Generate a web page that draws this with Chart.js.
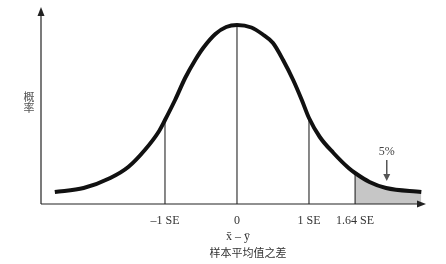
<!DOCTYPE html>
<html><head><meta charset="utf-8">
<script src="https://cdn.jsdelivr.net/npm/chart.js@4"></script>
<style>html,body{margin:0;padding:0;background:#fff}#wrap{width:446px;height:264px}</style>
</head><body><div id="wrap"><canvas id="c" width="446" height="264"></canvas></div>
<script>
// Curve: x in SE units, y = height above axis
const curveX = [-2.53,-2.13,-1.76,-1.51,-1.28,-1.09,-1.00,-0.86,-0.72,-0.58,-0.47,-0.30,-0.15,0,0.20,0.35,0.50,0.64,0.78,0.90,1.00,1.15,1.34,1.55,1.64,1.84,2.07,2.56];
const curveY = [12,16,26,37,54,72,84,104,126,144,156,170,177,179,176.5,170,161,144,124,104,86,67,51,36,31,22,16,12];
const markerX = [-1, 0, 1, 1.64];
const markerY = [84, 179, 86, 31];
const tickLabels = ['–1 SE', '0', '1 SE', '1.64 SE'];
const tailStart = 1.64;
const calloutLabel = '5%';
const calloutX = 2.08;
const calloutTextY = 52;
const calloutArrowTop = 44;
const calloutArrowTip = 23;
const xTitle = ['x̄ – ȳ', '样本平均值之差'];
const yTitle = ['概', '率'];

const curvePts = curveX.map((x, i) => ({x, y: curveY[i]}));
const tailPts = curvePts.filter(p => p.x >= tailStart);

const datasets = [{
  data: curvePts, borderColor: '#111', borderWidth: 4, pointRadius: 0,
  cubicInterpolationMode: 'monotone', fill: false
}];
markerX.forEach((m, i) => datasets.push({
  data: [{x: m, y: 0}, {x: m, y: markerY[i]}], borderColor: '#111', borderWidth: 1,
  pointRadius: 0, fill: false
}));
datasets.push({
  data: tailPts, borderWidth: 0, borderColor: 'rgba(0,0,0,0)', pointRadius: 0,
  cubicInterpolationMode: 'monotone', fill: 'origin', backgroundColor: '#c6c6c6'
});

const decor = {
  id: 'decor',
  afterDraw(chart) {
    const {ctx, chartArea: a, scales: {x, y}} = chart;
    ctx.save();
    ctx.strokeStyle = '#222'; ctx.fillStyle = '#222'; ctx.lineWidth = 1.2;
    // y axis + arrow
    ctx.beginPath(); ctx.moveTo(a.left, a.bottom); ctx.lineTo(a.left, a.top + 6); ctx.stroke();
    ctx.beginPath(); ctx.moveTo(a.left, a.top); ctx.lineTo(a.left - 3.5, a.top + 9);
    ctx.lineTo(a.left + 3.5, a.top + 9); ctx.closePath(); ctx.fill();
    // x axis + arrow
    ctx.beginPath(); ctx.moveTo(a.left, a.bottom); ctx.lineTo(a.right - 6, a.bottom); ctx.stroke();
    ctx.beginPath(); ctx.moveTo(a.right, a.bottom); ctx.lineTo(a.right - 9, a.bottom - 3.5);
    ctx.lineTo(a.right - 9, a.bottom + 3.5); ctx.closePath(); ctx.fill();
    // callout
    const cx = x.getPixelForValue(calloutX);
    ctx.fillStyle = '#444';
    ctx.font = '12px "Liberation Serif"';
    ctx.textAlign = 'center'; ctx.textBaseline = 'middle';
    ctx.fillText(calloutLabel, cx, y.getPixelForValue(calloutTextY));
    ctx.strokeStyle = '#555'; ctx.fillStyle = '#555'; ctx.lineWidth = 1.5;
    const t0 = y.getPixelForValue(calloutArrowTop), t1 = y.getPixelForValue(calloutArrowTip);
    ctx.beginPath(); ctx.moveTo(cx, t0); ctx.lineTo(cx, t1 - 6); ctx.stroke();
    ctx.beginPath(); ctx.moveTo(cx, t1); ctx.lineTo(cx - 3.5, t1 - 7); ctx.lineTo(cx + 3.5, t1 - 7);
    ctx.closePath(); ctx.fill();
    // y title (vertical stacked)
    ctx.fillStyle = '#555';
    ctx.font = '11px "Noto Sans CJK SC"';
    ctx.fillText(yTitle[0], 29, 97);
    ctx.fillText(yTitle[1], 29, 108);
    // x title
    const x0 = x.getPixelForValue(0);
    ctx.fillStyle = '#333';
    ctx.font = '12px "Liberation Serif"';
    ctx.fillText(xTitle[0], x0 + 1, 237);
    ctx.font = '11px "Noto Sans CJK SC"';
    ctx.fillText(xTitle[1], x0 + 11, 252.5);
    ctx.restore();
  }
};

new Chart(document.getElementById('c'), {
  type: 'line',
  data: {datasets},
  options: {
    responsive: false, animation: false, devicePixelRatio: 1,
    layout: {padding: {left: 41, right: 20, top: 7, bottom: 0}},
    plugins: {legend: {display: false}, tooltip: {enabled: false}},
    scales: {
      x: {
        type: 'linear', min: -2.722, max: 2.625,
        grid: {display: false, drawTicks: false}, border: {display: false},
        ticks: {
          autoSkip: false, maxRotation: 0, padding: 10, color: '#333',
          font: {family: 'Liberation Serif', size: 12},
          callback: (v, i) => tickLabels[i]
        },
        afterBuildTicks: s => { s.ticks = markerX.map(v => ({value: v})); },
        afterFit: s => { s.height = 60; }
      },
      y: {display: false, min: 0, max: 197}
    }
  },
  plugins: [decor]
});
</script></body></html>
